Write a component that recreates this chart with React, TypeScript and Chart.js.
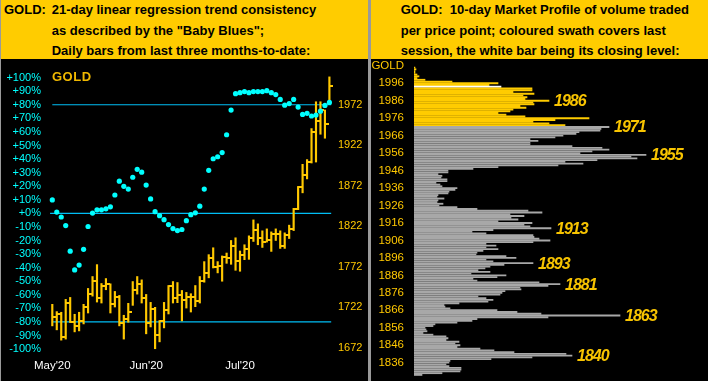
import React, { useEffect, useRef } from 'react';
import { Chart, registerables } from 'chart.js';
Chart.register(...registerables);

// ---------- Left panel data ----------
const months = ["May'20", "Jun'20", "Jul'20"];
const monthIdx = [0, 21, 42];

const highs = [
  1725.4, 1716.4, 1715.6, 1731.5, 1733.9, 1713.1, 1715.6, 1725.4, 1745.0, 1759.7,
  1774.4, 1751.1, 1757.2, 1750.7, 1741.3, 1736.4, 1711.9, 1726.6, 1753.5, 1759.7,
  1755.6, 1737.6, 1727.8, 1721.7, 1705.4, 1727.8, 1748.6, 1753.5, 1752.3, 1742.5,
  1740.1, 1738.5, 1748.6, 1759.7, 1778.1, 1786.7, 1795.2, 1778.1, 1785.1, 1788.7,
  1804.2, 1807.5, 1791.2, 1798.9, 1809.9, 1829.6, 1824.7, 1816.1, 1818.5, 1814.8,
  1818.5, 1816.1, 1813.6, 1823.1, 1843.9, 1870.9, 1898.2, 1904.0, 1942.3, 1975.4,
  1975.4, 1965.2, 2006.1,
];
const lows = [
  1698.8, 1693.9, 1681.2, 1682.5, 1702.9, 1691.4, 1692.6, 1701.2, 1714.7, 1735.5,
  1728.2, 1727.0, 1743.4, 1714.7, 1722.1, 1698.8, 1682.5, 1703.3, 1724.1, 1738.0,
  1727.0, 1689.0, 1697.5, 1670.6, 1679.1, 1696.3, 1713.5, 1727.0, 1727.4, 1704.9,
  1720.8, 1715.9, 1722.5, 1727.0, 1752.7, 1758.1, 1770.3, 1764.2, 1753.9, 1776.0,
  1774.8, 1767.4, 1766.2, 1780.5, 1780.9, 1803.0, 1798.9, 1795.6, 1802.2, 1790.7,
  1804.2, 1794.4, 1794.4, 1806.6, 1816.4, 1842.2, 1863.0, 1880.2, 1899.8, 1901.0,
  1935.3, 1930.4, 1973.3,
];
const closes = [
  1709.8, 1714.0, 1685.3, 1727.0, 1703.7, 1698.4, 1704.9, 1722.1, 1738.0, 1753.9,
  1733.1, 1748.3, 1750.2, 1725.7, 1734.3, 1702.1, 1707.3, 1715.9, 1742.9, 1750.2,
  1733.1, 1702.4, 1719.6, 1687.7, 1704.9, 1718.4, 1747.8, 1732.7, 1737.2, 1730.6,
  1734.3, 1734.8, 1729.4, 1754.8, 1763.7, 1783.0, 1771.1, 1773.2, 1784.2, 1783.0,
  1797.7, 1778.4, 1786.7, 1793.6, 1807.5, 1817.7, 1807.5, 1801.7, 1804.2, 1812.8,
  1812.8, 1796.8, 1811.5, 1818.9, 1843.4, 1870.4, 1885.1, 1901.0, 1937.8, 1951.3,
  1965.2, 1947.6, 1995.0,
];
const babyBlues = [
  9.9, 0.9, -2.7, -9.0, -27.9, -41.7, -38.1, -26.5, -9.7, 0.2,
  2.6, 2.6, 3.3, 4.8, 13.5, 23.7, 19.9, 17.9, 26.6, 32.4,
  30.3, 20.8, 10.6, 1.2, -1.7, -4.7, -8.3, -11.2, -12.7, -11.9,
  -5.4, -1.0, 0.4, 5.3, 17.9, 31.7, 40.2, 41.7, 44.8, 57.9,
  76.1, 88.2, 88.9, 89.7, 88.9, 89.7, 89.7, 89.7, 90.4, 88.9,
  87.5, 83.9, 79.7, 80.9, 83.9, 78.3, 72.9, 73.7, 71.7, 72.4,
  75.3, 79.5, 81.7,
];
const pctTicks = [-100, -90, -80, -70, -60, -50, -40, -30, -20, -10, 0, 10, 20, 30, 40, 50, 60, 70, 80, 90, 100];
const priceTicks = [1672, 1722, 1772, 1822, 1872, 1922, 1972];
const refLevels = [80, 0, -80];

// ---------- Right panel data (volume per $1 price level, from top level downward) ----------
const profileTop = 2005;
const profileVolume = [
  1, 2, 1, 1, 3, 5, 3, 11, 38, 84,
  75, 87, 118, 118, 99, 120, 109, 113, 111, 135,
  119, 120, 106, 112, 99, 96, 84, 92, 111, 175,
  141, 119, 135, 151, 195, 187, 186, 165, 162, 149,
  141, 116, 124, 116, 116, 158, 188, 195, 178, 166,
  232, 217, 223, 183, 151, 169, 144, 84, 59, 34,
  34, 24, 28, 27, 33, 33, 22, 26, 28, 43,
  41, 35, 34, 24, 23, 30, 24, 23, 29, 25,
  43, 63, 114, 128, 96, 110, 97, 104, 84, 118,
  110, 116, 137, 79, 58, 72, 119, 120, 125, 136,
  119, 72, 82, 72, 84, 69, 63, 62, 92, 102,
  72, 79, 119, 90, 76, 71, 64, 76, 57, 92,
  83, 59, 63, 125, 146, 134, 106, 107, 91, 88,
  86, 64, 72, 79, 74, 45, 30, 31, 36, 83,
  103, 127, 206, 134, 63, 58, 43, 21, 19, 11,
  12, 13, 9, 19, 32, 34, 32, 45, 41, 46,
  43, 66, 80, 100, 152, 158, 118, 77, 36, 35,
  32, 35, 47, 47, 46, 28, 8,
];
const closingLevel = 1994;
const swathLow = 1972;
const profileTicks = [1836, 1846, 1856, 1866, 1876, 1886, 1896, 1906, 1916, 1926, 1936, 1946, 1956, 1966, 1976, 1986, 1996];
const peakLevels = [1986, 1971, 1955, 1913, 1893, 1881, 1863, 1840];

const leftHeader = [
  '21-day linear regression trend consistency',
  'as described by the "Baby Blues";',
  'Daily bars from last three months-to-date:',
];
const rightHeader = [
  'GOLD:  10-day Market Profile of volume traded',
  'per price point; coloured swath covers last',
  'session, the white bar being its closing level:',
];

const FONT = '"Liberation Sans", Arial, Helvetica, sans-serif';
const GOLD = '#FFC800';
const CYAN = '#00FFFF';
const LINE = '#00BEF5';
const GRAY = '#A8A8A8';

export default function App() {
  const leftRef = useRef<HTMLCanvasElement>(null);
  const rightRef = useRef<HTMLCanvasElement>(null);

  useEffect(() => {
    const tick = document.createElement('canvas');
    tick.width = 8;
    tick.height = 2;
    const tc = tick.getContext('2d')!;
    tc.fillStyle = GOLD;
    tc.fillRect(4, 0, 4, 2);

    const idx = highs.map((_, i) => i);
    const lastX = idx.length - 1;

    const lineSets = refLevels.map((lv) => ({
      type: 'line' as const,
      data: [{ x: lv === 0 ? -0.5 : 0, y: lv }, { x: lastX + 0.4, y: lv }],
      borderColor: LINE,
      borderWidth: 1.2,
      pointRadius: 0,
      xAxisID: 'x',
      yAxisID: 'y',
      order: 5,
    }));

    const left = new Chart(leftRef.current!, {
      type: 'scatter',
      data: {
        datasets: [
          ...lineSets,
          {
            type: 'bar',
            data: idx.map((i) => ({ x: i, y: [lows[i], highs[i]] })) as any,
            backgroundColor: GOLD,
            barThickness: 1.5,
            borderWidth: 0,
            xAxisID: 'x',
            yAxisID: 'price',
            order: 3,
          },
          {
            type: 'scatter',
            data: idx.map((i) => ({ x: i, y: closes[i] })),
            pointStyle: tick as any,
            pointRadius: 3,
            xAxisID: 'x',
            yAxisID: 'price',
            order: 2,
          },
          {
            type: 'scatter',
            data: idx.map((i) => ({ x: i, y: babyBlues[i] })),
            pointStyle: 'circle',
            pointRadius: 2.6,
            backgroundColor: CYAN,
            borderWidth: 0,
            xAxisID: 'x',
            yAxisID: 'y',
            order: 1,
          },
        ] as any,
      },
      options: {
        animation: false,
        responsive: false,
        events: [],
        layout: { padding: { top: 3, left: 0, right: 0, bottom: 0 } },
        plugins: { legend: { display: false }, tooltip: { enabled: false } },
        scales: {
          x: {
            type: 'linear',
            position: 'bottom',
            min: -0.962,
            max: 63.477,
            offset: false,
            grid: { display: false, drawTicks: false, offset: false },
            border: { display: false },
            afterBuildTicks: (s: any) => {
              s.ticks = monthIdx.map((v) => ({ value: v }));
            },
            afterFit: (s: any) => {
              s.height = 25;
              s.paddingLeft = 0;
              s.paddingRight = 0;
            },
            ticks: {
              color: '#FFFFFF',
              font: { family: FONT, size: 11.5 },
              padding: 3,
              autoSkip: false,
              maxRotation: 0,
              callback: (v: any) => months[monthIdx.indexOf(Number(v))] ?? '',
            },
          },
          y: {
            type: 'linear',
            position: 'left',
            min: -105.12,
            max: 110.03,
            grid: { display: false, drawTicks: false },
            border: { display: false },
            afterBuildTicks: (s: any) => {
              s.ticks = pctTicks.map((v) => ({ value: v }));
            },
            afterFit: (s: any) => {
              s.width = 47;
              s.paddingTop = 0;
              s.paddingBottom = 0;
            },
            ticks: {
              color: CYAN,
              font: { family: FONT, size: 11 },
              padding: 7,
              autoSkip: false,
              callback: (v: any) => (Number(v) >= 0 ? '+' : '') + v + '%',
            },
          },
          price: {
            type: 'linear',
            position: 'right',
            min: 1661.62,
            max: 2022.0,
            grid: { display: false, drawTicks: false },
            border: { display: false },
            afterBuildTicks: (s: any) => {
              s.ticks = priceTicks.map((v) => ({ value: v }));
            },
            afterFit: (s: any) => {
              s.width = 32;
              s.paddingTop = 0;
              s.paddingBottom = 0;
            },
            ticks: {
              color: GOLD,
              font: { family: FONT, size: 11 },
              padding: 2,
              autoSkip: false,
              callback: (v: any) => String(v),
            },
          },
        },
      } as any,
    });

    const levels = profileVolume.map((_, i) => profileTop - i);
    const colors = levels.map((p) => (p === closingLevel ? '#FFFFFF' : p >= swathLow ? '#FFCC00' : GRAY));
    const axisTitleAt = profileTicks[profileTicks.length - 1] + 10;

    const peakPlugin = {
      id: 'peaks',
      afterDatasetsDraw(chart: any) {
        const { ctx, scales } = chart;
        ctx.save();
        ctx.font = `italic bold 16px ${FONT}`;
        (ctx as any).letterSpacing = '-1px';
        ctx.fillStyle = '#F8C400';
        ctx.textAlign = 'left';
        ctx.textBaseline = 'middle';
        peakLevels.forEach((p) => {
          const v = profileVolume[profileTop - p];
          ctx.fillText(String(p), scales.x.getPixelForValue(v) + 5, scales.y.getPixelForValue(p) + 1);
        });
        ctx.restore();
      },
    };

    const right = new Chart(rightRef.current!, {
      type: 'bar',
      data: {
        datasets: [
          {
            data: levels.map((p, i) => ({ x: profileVolume[i], y: p })),
            backgroundColor: colors,
            barThickness: 1.2,
            borderWidth: 0,
          },
        ],
      },
      options: {
        indexAxis: 'y',
        animation: false,
        responsive: false,
        events: [],
        layout: { padding: 0 },
        plugins: { legend: { display: false }, tooltip: { enabled: false } },
        scales: {
          x: { type: 'linear', min: 0, max: 294, display: false },
          y: {
            type: 'linear',
            min: 1825.5,
            max: 2009.92,
            offset: false,
            grid: { display: false, drawTicks: false },
            border: { display: false },
            afterBuildTicks: (s: any) => {
              s.ticks = [...profileTicks, axisTitleAt].map((v) => ({ value: v }));
            },
            afterFit: (s: any) => {
              s.width = 43;
              s.paddingTop = 0;
              s.paddingBottom = 0;
            },
            ticks: {
              color: GOLD,
              font: { family: FONT, size: 11.5 },
              padding: 10,
              autoSkip: false,
              callback: (v: any) => (Number(v) === axisTitleAt ? 'GOLD' : String(v)),
            },
          },
        },
      } as any,
      plugins: [peakPlugin],
    });

    return () => {
      left.destroy();
      right.destroy();
    };
  }, []);

  const headFont: React.CSSProperties = {
    position: 'absolute',
    top: 0,
    font: `bold 13px ${FONT}`,
    lineHeight: '20.5px',
    color: '#000',
    whiteSpace: 'pre',
  };

  return (
    <div
      style={{
        position: 'fixed',
        left: 0,
        top: 0,
        width: 708,
        height: 381,
        background: '#9a9a9a',
        overflow: 'hidden',
        fontFamily: FONT,
      }}
    >
      <div style={{ position: 'absolute', left: 1, top: 0, width: 367, height: 381, background: '#000' }}>
        <div style={{ position: 'absolute', left: 0, top: 0, width: 367, height: 59, background: '#FFCC00' }}>
          <div style={{ ...headFont, left: 3 }}>GOLD:</div>
          <div style={{ ...headFont, left: 50.7 }}>
            {leftHeader.map((l) => (
              <div key={l}>{l}</div>
            ))}
          </div>
        </div>
        <canvas
          ref={leftRef}
          width={367}
          height={322}
          style={{ position: 'absolute', left: 0, top: 59, display: 'block' }}
        />
        <div
          style={{
            position: 'absolute',
            left: 51,
            top: 69.6,
            font: `bold 13px ${FONT}`,
            lineHeight: '13px',
            color: '#F0B800',
            letterSpacing: '0.5px',
          }}
        >
          GOLD
        </div>
      </div>
      <div style={{ position: 'absolute', left: 371, top: 0, width: 337, height: 381, background: '#000' }}>
        <div style={{ position: 'absolute', left: 0, top: 0, width: 337, height: 59, background: '#FFCC00' }}>
          <div style={{ ...headFont, left: 29.7 }}>
            {rightHeader.map((l) => (
              <div key={l}>{l}</div>
            ))}
          </div>
        </div>
        <canvas
          ref={rightRef}
          width={337}
          height={322}
          style={{ position: 'absolute', left: 0, top: 59, display: 'block' }}
        />
      </div>
    </div>
  );
}
